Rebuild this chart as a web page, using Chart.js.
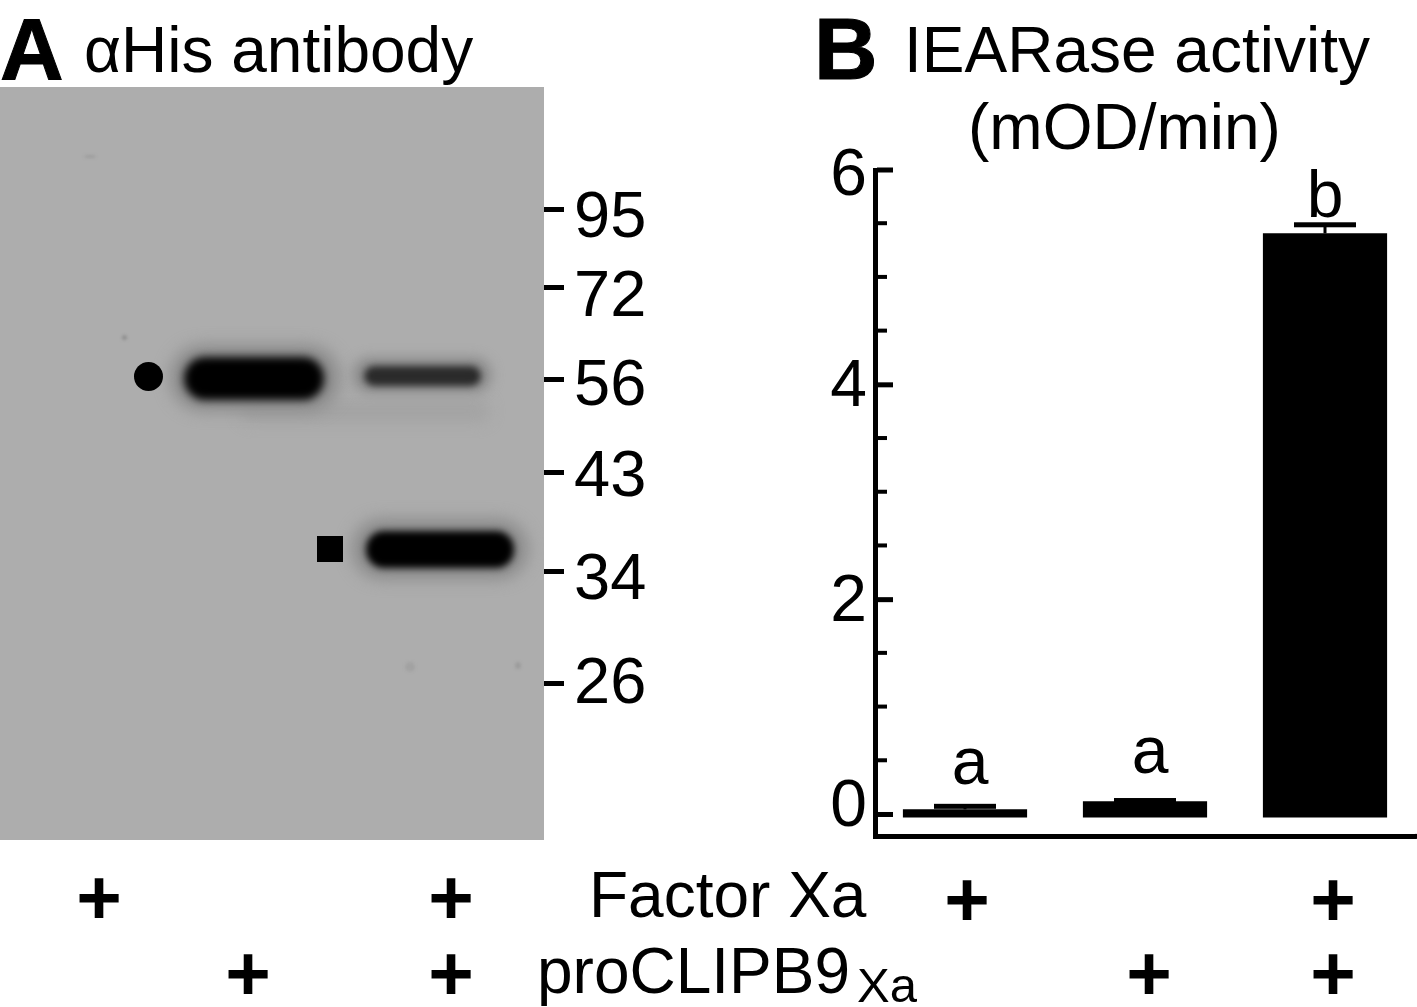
<!DOCTYPE html>
<html><head><meta charset="utf-8">
<script src="https://cdn.jsdelivr.net/npm/chart.js@4"></script>
<style>
html,body{margin:0;padding:0;background:#fff;width:1417px;height:1007px;overflow:hidden;font-family:"Liberation Sans",Arial,sans-serif;color:#000}
.t{position:absolute;white-space:nowrap;line-height:1;transform:translateY(-50%)}
#blot{position:absolute;left:0;top:87px;width:544px;height:753px;background:#adadad;overflow:hidden}
.band{position:absolute}
.speck{position:absolute;border-radius:50%;background:#8f8f8f;filter:blur(1.5px)}
.mw{position:absolute;left:544px;width:20px;height:5px;background:#000}
#c{position:absolute;left:800px;top:130px}
</style></head><body>
<div id="blot">
  <div class="band" style="left:240px;top:312px;width:250px;height:24px;background:#a4a4a4;filter:blur(7px);border-radius:12px"></div>
  <div class="band" style="left:170px;top:258px;width:170px;height:66px;background:#8a8a8a;filter:blur(8px);border-radius:33px"></div>
  <div class="band" style="left:184px;top:270px;width:140px;height:43px;background:#000;filter:blur(4px);border-radius:21px"></div>
  <div class="band" style="left:352px;top:270px;width:140px;height:36px;background:#8d8d8d;filter:blur(6px);border-radius:18px"></div>
  <div class="band" style="left:364px;top:279px;width:117px;height:20px;background:#2a2a2a;filter:blur(3.5px);border-radius:10px"></div>
  <div class="band" style="left:352px;top:432px;width:176px;height:60px;background:#8a8a8a;filter:blur(8px);border-radius:30px"></div>
  <div class="band" style="left:366px;top:444px;width:148px;height:37px;background:#000;filter:blur(3.5px);border-radius:18px"></div>
  <div style="position:absolute;left:134px;top:275px;width:29px;height:29px;border-radius:50%;background:#000"></div>
  <div style="position:absolute;left:317px;top:449px;width:26px;height:26px;background:#000"></div>
  <div class="speck" style="left:122px;top:248px;width:5px;height:5px"></div>
  <div class="speck" style="left:405px;top:575px;width:10px;height:10px;background:#a2a2a2"></div>
  <div class="speck" style="left:515px;top:575px;width:6px;height:7px;background:#9c9c9c"></div>
  <div class="speck" style="left:84px;top:68px;width:12px;height:3px;background:#9c9c9c"></div>
</div>
<div id="labels"></div>
<canvas id="c" width="617" height="730" style="width:617px;height:730px"></canvas>
<script>
// ---- data ----
const categories = ["Factor Xa", "proCLIPB9Xa", "Factor Xa + proCLIPB9Xa"];
const activity = [0.048, 0.124, 5.41];
const errorTop = [0.076, 0.13, 5.49];
const sigLetters = ["a", "a", "b"];
const yTicks = [0, 0.5, 1, 1.5, 2, 2.5, 3, 3.5, 4, 4.5, 5, 5.5, 6];
const yLabelled = [0, 2, 4, 6];
const mwLabels = ["95", "72", "56", "43", "34", "26"];
const titleA = "αHis antibody";
const titleB = ["IEARase activity", "(mOD/min)"];
const rowNames = ["Factor Xa", "proCLIPB9"];
const rowSub = "Xa";

// ---- page text ----
const host = document.getElementById('labels');
function text(s, x, cy, size, extra) {
  const e = document.createElement('div');
  e.className = 't'; e.textContent = s;
  e.style.cssText = `left:${x}px;top:${cy}px;font-size:${size}px;` + (extra || '');
  host.appendChild(e); return e;
}
text("A", 0, 49, 88, "font-weight:bold;-webkit-text-stroke:1px #000");
text("B", 814, 49, 88, "font-weight:bold;-webkit-text-stroke:1px #000");
text(titleA, 84, 50, 64);
text(titleB[0], 904, 50, 64);
text(titleB[1], 968, 127, 64);
const mwTickY = [209, 287, 379, 472, 571, 683];
const mwTextY = [214, 293, 382, 473, 576, 680];
mwLabels.forEach((m, i) => {
  const d = document.createElement('div'); d.className = 'mw'; d.style.top = (mwTickY[i] - 2) + 'px';
  host.appendChild(d);
  text(m, 574, mwTextY[i], 65);
});
text(rowNames[0], 589, 895, 64);
text(rowNames[1], 537, 971, 64);
text(rowSub, 857, 985, 49);
[[99,897],[451,897],[967,899],[1333,899],[248,973],[451,973],[1149,973],[1333,973]].forEach(p => {
  text("+", p[0], p[1], 78, "font-weight:bold;transform:translate(-50%,-50%)");
});

// ---- chart ----
const extras = {
  id: 'extras',
  afterDatasetsDraw(chart) {
    const { ctx, scales: { x, y }, chartArea } = chart;
    ctx.save(); ctx.fillStyle = '#000';
    const axisRight = chartArea.left + 2;
    ctx.fillRect(chartArea.right, chartArea.bottom - 2.5, 2, 5);
    yTicks.forEach(v => {
      const p = y.getPixelForValue(v), major = yLabelled.includes(v);
      ctx.fillRect(axisRight, p - 2.5, major ? 16 : 10, major ? 5 : 4);
    });
    activity.forEach((v, i) => {
      const cx = x.getPixelForValue(i), top = y.getPixelForValue(errorTop[i]), b = y.getPixelForValue(v);
      ctx.fillRect(cx - 1.5, top, 3, b - top);
      ctx.fillRect(cx - 31, top - 2.5, 62, 5);
    });
    ctx.font = '66px "Liberation Sans"'; ctx.textAlign = 'center'; ctx.textBaseline = 'alphabetic';
    sigLetters.forEach((s, i) => {
      const cx = x.getPixelForValue(i) + (i < 2 ? 5 : 0);
      ctx.fillText(s, cx, y.getPixelForValue(errorTop[i]) - (i === 0 ? 22 : i === 1 ? 28 : 8));
    });
    ctx.restore();
  }
};
const labelShift = { 0: 14, 2: 6, 4: 6, 6: 14 };
new Chart(document.getElementById('c'), {
  type: 'bar',
  data: { labels: categories, datasets: [{ data: activity, base: -0.028, backgroundColor: '#000', barPercentage: 0.69, categoryPercentage: 1 }] },
  options: {
    responsive: false, animation: false,
    layout: { padding: { left: 0, top: 40, right: 2, bottom: 23.6 } },
    plugins: { legend: { display: false }, tooltip: { enabled: false } },
    scales: {
      x: {
        grid: { display: false, drawTicks: false },
        border: { display: true, width: 5, color: '#000' },
        ticks: { display: false },
        afterFit(s) { s.height = 0; s.paddingLeft = 0; s.paddingRight = 0; }
      },
      y: {
        min: -0.204, max: 6,
        grid: { display: false, drawTicks: false },
        border: { display: true, width: 5, color: '#000' },
        afterBuildTicks(s) { s.ticks = yTicks.map(v => ({ value: v })); },
        afterFit(s) { s.width = 75; s.paddingTop = 0; s.paddingBottom = 0; },
        ticks: {
          color: '#000', padding: 8, autoSkip: false, maxRotation: 0,
          font: c => ({ family: '"Liberation Sans"', size: 66, lineHeight: (c.tick && labelShift[c.tick.value] || 66) + 'px' }),
          callback: v => v === 0 ? ['0', ''] : (yLabelled.includes(v) ? ['', String(v)] : '')
        }
      }
    }
  },
  plugins: [extras]
});
</script>
</body></html>
